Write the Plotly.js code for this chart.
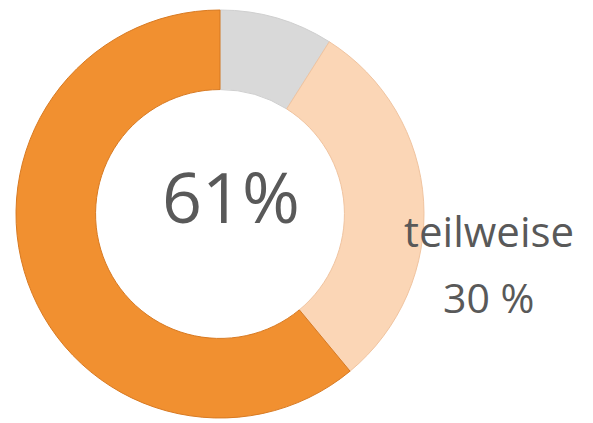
<!DOCTYPE html>
<html>
<head>
<meta charset="utf-8">
<script src="https://cdn.plot.ly/plotly-3.0.1.min.js"></script>
<style>html,body{margin:0;padding:0;background:#fff;}#chart{width:593px;height:423px;}</style>
</head>
<body>
<div id="chart"></div>
<script>
const categories = ["keine Angabe", "teilweise", "ja"];
const values = [9, 30, 61];
const colors = ["#D9D9D9", "#FBD6B6", "#F19030"];
const centerLabel = "61%";
const sideLabel = "teilweise";
const sideValue = "30 %";

const W = 593, H = 423;
const trace = {
  type: "pie",
  labels: categories,
  values: values,
  hole: 0.61,
  sort: false,
  direction: "clockwise",
  rotation: 0,
  textinfo: "none",
  hoverinfo: "label+percent",
  marker: {colors: colors, line: {color: ["#CFCFCF", "#F0C4A0", "#D87A22"], width: 1}},
  domain: {x: [16 / W, 424 / W], y: [5 / H, 413 / H]},
  showlegend: false
};
const font = {family: "Open Sans, sans-serif", color: "#595959"};
const layout = {
  width: W, height: H,
  margin: {l: 0, r: 0, t: 0, b: 0},
  paper_bgcolor: "#fff",
  showlegend: false,
  annotations: [
    {text: centerLabel, x: 231 / W, y: 1 - 196 / H, xref: "paper", yref: "paper", xanchor: "center", yanchor: "middle", showarrow: false, font: Object.assign({size: 70}, font)},
    {text: sideLabel, x: 489 / W, y: 1 - 230 / H, xref: "paper", yref: "paper", xanchor: "center", yanchor: "middle", showarrow: false, font: Object.assign({size: 42}, font)},
    {text: sideValue, x: 488 / W, y: 1 - 297 / H, xref: "paper", yref: "paper", xanchor: "center", yanchor: "middle", showarrow: false, font: Object.assign({size: 41}, font)}
  ]
};
Plotly.newPlot("chart", [trace], layout, {displayModeBar: false, staticPlot: true});
</script>
</body>
</html>
